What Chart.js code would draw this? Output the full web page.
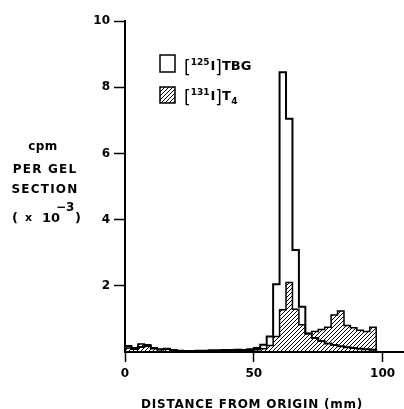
<!DOCTYPE html>
<html>
<head>
<meta charset="utf-8">
<script src="https://cdn.jsdelivr.net/npm/chart.js@4"></script>
<style>
html,body{margin:0;padding:0;background:#fff;}
#wrap{position:relative;width:404px;height:409px;}
canvas{display:block;}
</style>
</head>
<body>
<div id="wrap"><canvas id="c" width="404" height="409"></canvas></div>
<script>
// ---- data (gel sections, 2.5 mm each, 0..100 mm) ----
const binWidthMm = 2.5;
const tbgValues = [
  0.20, 0.18, 0.12, 0.15, 0.18, 0.12, 0.08, 0.10, 0.06, 0.04,
  0.03, 0.03, 0.04, 0.04, 0.05, 0.05, 0.06, 0.06, 0.07, 0.06,
  0.08, 0.12, 0.22, 0.47, 2.05, 8.45, 7.05, 3.08, 1.37, 0.55,
  0.42, 0.33, 0.26, 0.21, 0.17, 0.14, 0.12, 0.10, 0.08, 0.07
];
const t4Values = [
  0.15, 0.12, 0.08, 0.24, 0.22, 0.10, 0.07, 0.08, 0.05, 0.04,
  0.03, 0.03, 0.03, 0.04, 0.04, 0.04, 0.05, 0.05, 0.05, 0.05,
  0.05, 0.07, 0.10, 0.20, 0.47, 1.28, 2.10, 1.29, 0.82, 0.57,
  0.62, 0.68, 0.75, 1.12, 1.24, 0.80, 0.73, 0.66, 0.62, 0.75
];
const xTickValues = [0, 50, 100];
const yTickValues = [2, 4, 6, 8, 10];
const seriesLabels = ['TBG', 'T4'];

function histPoints(vals) {
  const pts = [{x: 0, y: 0}];
  vals.forEach((v, i) => pts.push({x: i * binWidthMm, y: v}));
  pts.push({x: vals.length * binWidthMm, y: 0});
  return pts;
}

function hatchPattern() {
  const s = 4;
  const c = document.createElement('canvas');
  c.width = s; c.height = s;
  const g = c.getContext('2d');
  g.strokeStyle = '#000';
  g.lineWidth = 1;
  g.beginPath();
  g.moveTo(0, s); g.lineTo(s, 0);
  g.moveTo(-1, 1); g.lineTo(1, -1);
  g.moveTo(s - 1, s + 1); g.lineTo(s + 1, s - 1);
  g.stroke();
  return document.getElementById('c').getContext('2d').createPattern(c, 'repeat');
}
const hatch = hatchPattern();

const FONT = '"DejaVu Sans", "Liberation Sans", Arial, sans-serif';

const decorPlugin = {
  id: 'decor',
  afterDraw(chart) {
    const ctx = chart.ctx;
    ctx.save();
    ctx.fillStyle = '#000';
    ctx.strokeStyle = '#000';
    ctx.textBaseline = 'alphabetic';

    // y-axis title (horizontal, multi-line)
    ctx.textAlign = 'center';
    ctx.font = 'bold 12px ' + FONT;
    ctx.letterSpacing = '0.5px';
    ctx.fillText('cpm', 43, 150);
    ctx.letterSpacing = '1.2px';
    ctx.fillText('PER GEL', 45, 173);
    ctx.fillText('SECTION', 45, 193);
    ctx.letterSpacing = '0px';
    ctx.textAlign = 'left';
    ctx.font = 'bold 13px ' + FONT;
    ctx.fillText('(', 12, 222);
    ctx.font = 'bold 11px ' + FONT;
    ctx.fillText('x', 25, 221);
    ctx.font = 'bold 13px ' + FONT;
    ctx.fillText('10', 42, 222);
    ctx.font = 'bold 12px ' + FONT;
    ctx.fillText('\u22123', 56, 211);
    ctx.font = 'bold 13px ' + FONT;
    ctx.fillText(')', 75, 222);

    // x-axis title
    ctx.textAlign = 'center';
    ctx.font = 'bold 12px ' + FONT;
    ctx.letterSpacing = '0.75px';
    ctx.fillText('DISTANCE FROM ORIGIN (mm)', 252, 408);
    ctx.letterSpacing = '0px';

    // legend
    ctx.lineWidth = 1.5;
    ctx.fillStyle = '#fff';
    ctx.fillRect(160, 55, 15, 17);
    ctx.strokeRect(160, 55, 15, 17);
    ctx.fillStyle = hatch;
    ctx.fillRect(160, 87, 15, 16);
    ctx.strokeRect(160, 87, 15, 16);
    ctx.fillStyle = '#000';

    function isoLabel(y0, mass, rest, sub) {
      ctx.textAlign = 'left';
      let lx = 184;
      ctx.font = '17px ' + FONT;
      ctx.fillText('[', lx, y0 + 3); lx += ctx.measureText('[').width;
      ctx.font = 'bold 9px ' + FONT;
      ctx.fillText(mass, lx, y0 - 5); lx += ctx.measureText(mass).width + 1;
      ctx.font = 'bold 13px ' + FONT;
      ctx.fillText('I', lx, y0); lx += ctx.measureText('I').width;
      ctx.font = '17px ' + FONT;
      ctx.fillText(']', lx, y0 + 3); lx += ctx.measureText(']').width;
      ctx.font = 'bold 13px ' + FONT;
      ctx.fillText(rest, lx, y0); lx += ctx.measureText(rest).width + 0.5;
      if (sub) {
        ctx.font = 'bold 9px ' + FONT;
        ctx.fillText(sub, lx, y0 + 4);
      }
    }
    isoLabel(70, '125', seriesLabels[0], '');
    isoLabel(100, '131', 'T', '4');
    ctx.restore();
  }
};

new Chart(document.getElementById('c'), {
  type: 'line',
  data: {
    datasets: [
      {
        label: seriesLabels[0],
        data: histPoints(tbgValues),
        stepped: 'after',
        borderColor: '#000',
        borderWidth: 2,
        fill: false,
        pointRadius: 0,
        borderJoinStyle: 'miter',
        order: 0
      },
      {
        label: seriesLabels[1],
        data: histPoints(t4Values),
        stepped: 'after',
        borderColor: '#000',
        borderWidth: 1.5,
        backgroundColor: hatch,
        fill: 'origin',
        pointRadius: 0,
        borderJoinStyle: 'miter',
        order: 1
      }
    ]
  },
  options: {
    responsive: false,
    animation: false,
    devicePixelRatio: 1,
    layout: {padding: {top: 21, right: 0, left: 0, bottom: 0}},
    plugins: {legend: {display: false}, tooltip: {enabled: false}},
    scales: {
      x: {
        type: 'linear',
        min: 0,
        max: 108.3,
        afterBuildTicks: s => { s.ticks = xTickValues.map(v => ({value: v})); },
        afterFit: s => { s.height = 57; },
        grid: {drawOnChartArea: false, drawTicks: true, tickLength: 10, tickColor: '#000', tickWidth: 1.5},
        border: {display: true, color: '#000', width: 2},
        ticks: {color: '#000', font: {family: FONT, size: 12, weight: 'bold'}, padding: 5, maxRotation: 0}
      },
      y: {
        type: 'linear',
        min: 0,
        max: 10,
        afterBuildTicks: s => { s.ticks = yTickValues.map(v => ({value: v})); },
        afterFit: s => { s.width = 125; },
        grid: {drawOnChartArea: false, drawTicks: true, tickLength: 11, tickColor: '#000', tickWidth: 1.5},
        border: {display: true, color: '#000', width: 2},
        ticks: {color: '#000', font: {family: FONT, size: 12, weight: 'bold'}, padding: 4}
      }
    }
  },
  plugins: [decorPlugin]
});
</script>
</body>
</html>
